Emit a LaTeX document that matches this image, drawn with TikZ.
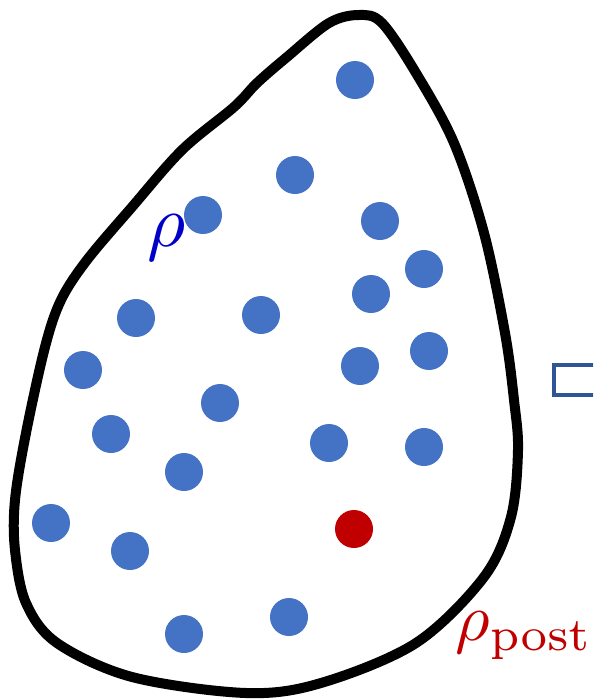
\documentclass[tikz,border=0pt]{standalone}
\usepackage{xcolor}
\usepackage{tikz}
\definecolor{SampleBlue}{HTML}{4472C4}
\definecolor{SampleRed}{HTML}{C00000}
\definecolor{LabelBlue}{HTML}{0000C8}
\definecolor{BoxBlue}{HTML}{2F5597}

\begin{document}
\begin{tikzpicture}[x=0.02cm,y=-0.02cm]
                \useasboundingbox (0,0) rectangle (593,700);
                \clip (0,0) rectangle (593,700);
                % outline of the set
                \draw[line width=10*0.02cm, line join=round] plot[smooth cycle, tension=0.55] coordinates {
                    (359,15) (382,23) (416,73) (454,143) (484,233) (505,333) (514,400)
                    (518,450) (511,517) (484,577) (416,643) (321,683) (246,693) (132,677)
                    (57,643) (26,603) (15,550) (15,500) (26,433) (45,347) (61,300)
                    (87,260) (132,207) (182,150) (234,107) (257,83) (287,57) (329,23)};
                
                % samples
                \foreach \px/\py [count=\i] in {355/80, 295/175, 203/215, 380/221, 424/269,
                    136/318, 261/315, 371/294, 83/370, 429/351, 360/366, 220/403, 111/434,
                    329/443, 424/447, 184/472, 51/523, 130/551, 289/617, 184/634}
                    \fill[SampleBlue] (\px,\py) circle (19) coordinate (s\i);
                \fill[SampleRed] (354,529) circle (19) coordinate (post);
                
                \node[LabelBlue, scale=4.2] (rho) at (167,238) {$\rho$};
                \node[SampleRed, scale=3.8, anchor=base west, inner sep=0pt] (rhopost) at (454,640) {$\rho_{\mathrm{post}}$};
                \draw[BoxBlue, line width=4*0.02cm] (554,365) rectangle (640,395);
            \end{tikzpicture}
\end{document}
